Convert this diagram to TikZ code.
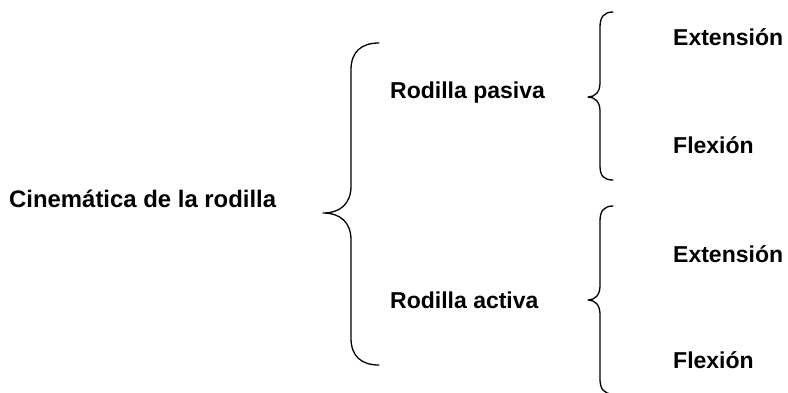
\documentclass[tikz,border=0pt]{standalone}
\usepackage{fontspec}
\setmainfont{Liberation Sans}
\begin{document}
\begin{tikzpicture}[x=1pt,y=-1pt,
  lbl/.style={anchor=base west,inner sep=0pt,font=\fontsize{23}{27}\selectfont\bfseries},
  brace/.style={line width=1.3pt,line cap=round,line join=round}]
\useasboundingbox (0,0) rectangle (788,392);
\clip (0,0) rectangle (788,392);
\node[lbl,font=\fontsize{23.9}{28}\selectfont\bfseries] (root) at (9,207) {Cinemática de la rodilla};
\node[lbl] (pas) at (390,98) {Rodilla pasiva};
\node[lbl] (act) at (390,308) {Rodilla activa};
\node[lbl] (ext1) at (673,45) {Extensión};
\node[lbl] (flx1) at (673,153) {Flexión};
\node[lbl] (ext2) at (673,262) {Extensión};
\node[lbl] (flx2) at (673,368) {Flexión};
% big brace
\draw[brace] (379,43) .. controls (361,43) and (351,52) .. (351,70) -- (351,186)
  .. controls (351,204) and (340,213) .. (323,213)
  .. controls (340,213) and (351,222) .. (351,240) -- (351,338)
  .. controls (351,356) and (361,365) .. (379,365);
% small brace 1
\draw[brace] (613,12) .. controls (604,12) and (600,17) .. (600,27) -- (600,83)
  .. controls (600,92) and (595,97) .. (588,97)
  .. controls (595,97) and (600,102) .. (600,111) -- (600,166)
  .. controls (600,176) and (604,180) .. (613,180);
% small brace 2
\draw[brace] (613,206) .. controls (604,206) and (600,211) .. (600,221) -- (600,286)
  .. controls (600,295) and (595,300) .. (588,300)
  .. controls (595,300) and (600,305) .. (600,314) -- (600,379)
  .. controls (600,389) and (604,394) .. (613,394);
\end{tikzpicture}
\end{document}
